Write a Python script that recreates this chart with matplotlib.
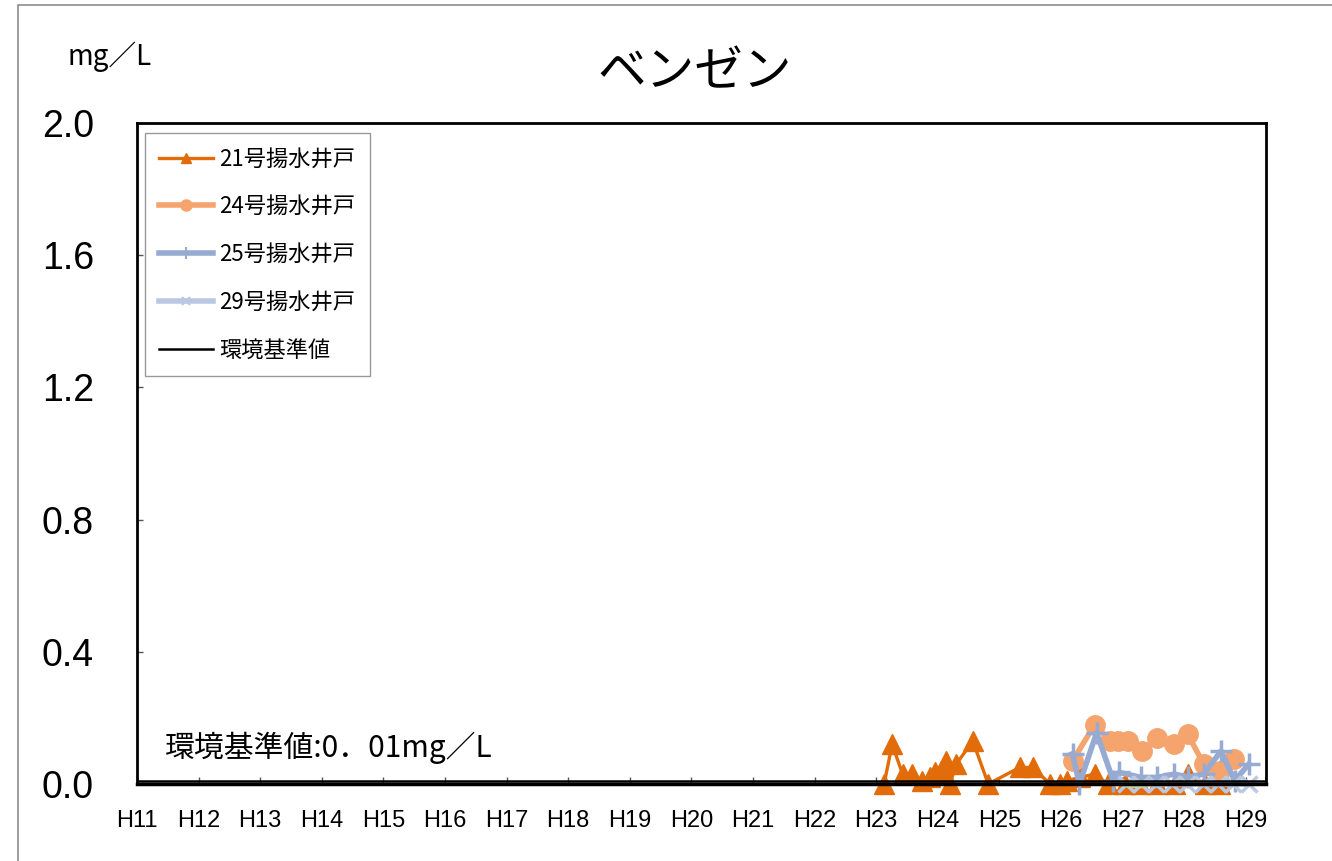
import matplotlib.pyplot as plt
from matplotlib.lines import Line2D
from matplotlib.patches import Rectangle

plt.rcParams['font.family'] = ['Noto Sans CJK JP', 'DejaVu Sans']

# year positions: H11 = 11.0, fractional part is the month
years = ["H11", "H12", "H13", "H14", "H15", "H16", "H17", "H18", "H19", "H20",
         "H21", "H22", "H23", "H24", "H25", "H26", "H27", "H28", "H29"]
year_pos = list(range(11, 30))

w21_t = [23.13, 23.26, 23.43, 23.58, 23.74, 23.87, 23.95, 24.05, 24.13, 24.20,
         24.30, 24.57, 24.82, 25.33, 25.55, 25.82, 25.98, 26.10, 26.31, 26.55,
         26.76, 27.04, 27.28, 27.56, 27.85, 28.06, 28.34, 28.58]
w21_v = [0.0, 0.12, 0.03, 0.03, 0.01, 0.02, 0.035, 0.04, 0.07, 0.0,
         0.06, 0.13, 0.0, 0.05, 0.05, 0.0, 0.0, 0.01, 0.02, 0.03,
         0.0, 0.0, 0.0, 0.0, 0.0, 0.03, 0.0, 0.0]

w24_t = [26.19, 26.55, 26.80, 26.93, 27.09, 27.31, 27.56, 27.84, 28.06, 28.32, 28.58, 28.81]
w24_v = [0.07, 0.18, 0.13, 0.13, 0.13, 0.10, 0.14, 0.12, 0.15, 0.06, 0.04, 0.075]

w25_t = [26.19, 26.30, 26.58, 26.85, 26.95, 27.30, 27.56, 27.84, 28.06, 28.32, 28.60, 28.82, 29.05]
w25_v = [0.09, 0.0, 0.155, 0.01, 0.035, 0.02, 0.02, 0.03, 0.02, 0.03, 0.10, 0.01, 0.06]

w29_t = [27.05, 27.30, 27.55, 27.80, 28.05, 28.30, 28.55, 28.80, 29.05]
w29_v = [0.0, 0.0, 0.0, 0.0, 0.0, 0.0, 0.0, 0.0, 0.0]

extra_t = [27.06, 27.36]
extra_v = [0.0, 0.0]

standard = 0.01
yticks = [0.0, 0.4, 0.8, 1.2, 1.6, 2.0]

c21 = '#E36C0A'
c24 = '#F5A46E'
c25 = '#97ABD2'
c29 = '#BAC8E2'

fig = plt.figure(figsize=(13.32, 8.61), dpi=100)
fig.patches.append(Rectangle((18 / 1332, -0.1), 1.2, 1.1 - 5 / 861, transform=fig.transFigure,
                             fill=False, edgecolor='#8c8c8c', linewidth=1.2))

ax = fig.add_axes([137 / 1332, 1 - 784 / 861, 1129 / 1332, 661 / 861])

ax.plot(w21_t, w21_v, color=c21, lw=2.4, marker='^', ms=14, clip_on=False, zorder=3)
ax.plot(w24_t, w24_v, color=c24, lw=4, marker='o', ms=14, clip_on=False, zorder=4)
ax.plot(w25_t, w25_v, color=c25, lw=4, marker='+', ms=16, mew=2.5, clip_on=False, zorder=5)
ax.plot(w29_t, w29_v, color=c29, lw=4, marker='x', ms=11, mew=2.5, clip_on=False, zorder=6)
ax.plot(extra_t, extra_v, color='#C4D79B', lw=5, solid_capstyle='butt', clip_on=False, zorder=6.5)
ax.axhline(standard, color='black', lw=1.8, zorder=8)

ax.set_xlim(11, 29.33)
ax.set_ylim(0, 2.0)
ax.set_xticks(year_pos)
ax.set_xticklabels(years, fontsize=17, family=['Liberation Sans'])
ax.set_yticks(yticks)
ax.set_yticklabels(['%.1f' % v for v in yticks], fontsize=27, family=['Liberation Sans'])
ax.tick_params(axis='x', direction='in', length=5, width=1, pad=19, color='#555555')
ax.tick_params(axis='y', direction='in', length=4, width=1, pad=31, color='#555555')
ax.tick_params(right=False, top=False)

for s in ax.spines.values():
    s.set_linewidth(2)
    s.set_zorder(9)
ax.spines['bottom'].set_linewidth(2.5)

handles = [
    Line2D([], [], color=c21, lw=2.4, marker='^', ms=7),
    Line2D([], [], color=c24, lw=4, marker='o', ms=8),
    Line2D([], [], color=c25, lw=4, marker='+', ms=8, mew=1.5),
    Line2D([], [], color=c29, lw=4, marker='x', ms=6, mew=1.5),
    Line2D([], [], color='black', lw=1.8),
]
labels = ['21号揚水井戸', '24号揚水井戸', '25号揚水井戸', '29号揚水井戸', '環境基準値']
leg = ax.legend(handles, labels, loc='upper left', bbox_to_anchor=(0.007, 0.985),
                fontsize=16, frameon=True, fancybox=False, edgecolor='#808080',
                handlelength=2.4, labelspacing=1.12, borderpad=0.65, borderaxespad=0,
                handletextpad=0.3)
leg.get_frame().set_linewidth(1.0)

ax.text(0.025, 0.055, '環境基準値:0．01mg／L', transform=ax.transAxes,
        fontsize=21.5, ha='left', va='center')

fig.text(695 / 1332, 1 - 73 / 861, 'ベンゼン', fontsize=35, ha='center', va='center')
fig.text(110 / 1332, 1 - 57 / 861, 'mg／L', fontsize=20, ha='center', va='center')

fig.savefig('out.png', dpi=100)
